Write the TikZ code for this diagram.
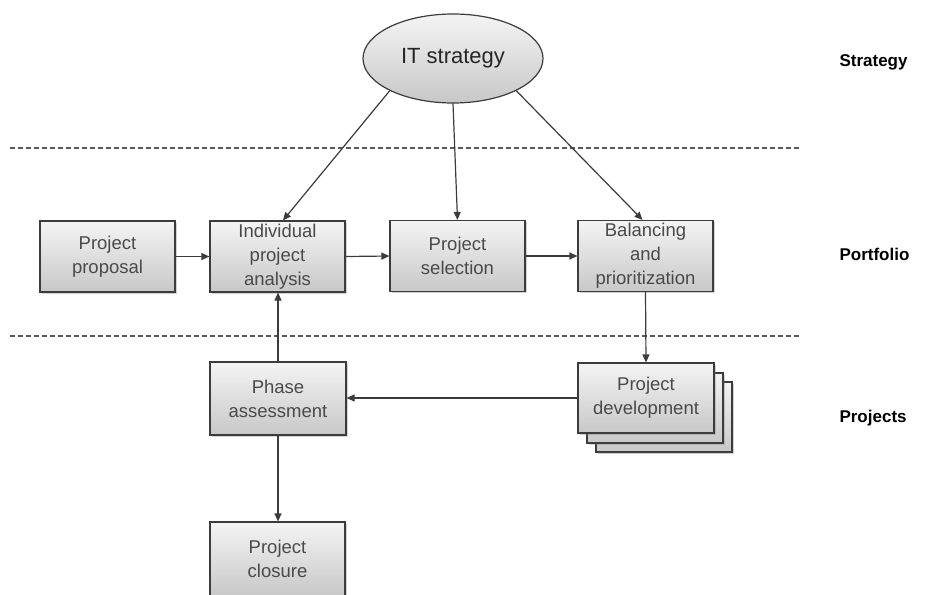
\documentclass[tikz,border=0pt]{standalone}
\usepackage{fontspec}
\setmainfont{Liberation Sans}
\usetikzlibrary{arrows.meta,shapes.geometric,shadows}

\definecolor{edge}{HTML}{3C3C3C}
\definecolor{boxtext}{HTML}{4A4A4A}
\definecolor{shadetop}{HTML}{F4F4F4}
\definecolor{shadebot}{HTML}{C8C8C8}

\tikzset{
  procbox/.style={draw=edge, line width=1.2pt, rectangle,
    top color=shadetop, bottom color=shadebot,
    minimum width=135pt, minimum height=71pt, inner sep=0pt,
    align=center, text=boxtext,
    font=\fontsize{18.5}{24}\selectfont,
    drop shadow={shadow xshift=1.5pt, shadow yshift=-1.5pt, opacity=0.35}},
  backbox/.style={procbox, drop shadow={opacity=0}},
  strat/.style={draw=edge, line width=1.2pt, ellipse,
    top color=shadetop, bottom color=shadebot,
    minimum width=180pt, minimum height=89pt, inner sep=0pt,
    text=black!85, font=\fontsize{22}{26}\selectfont},
  arr/.style={draw=edge, line width=1.2pt, -{Triangle[length=8pt,width=7pt]}},
  layerline/.style={draw=black!65, line width=1.2pt, dash pattern=on 5pt off 3pt},
  layerlabel/.style={anchor=west, font=\bfseries\fontsize{17}{20}\selectfont, text=black}
}

\begin{document}
\begin{tikzpicture}[x=1pt,y=-1pt]
\useasboundingbox[fill=white] (0,0) rectangle (933,594);

% layer separators
\coordinate (sepAl) at (10,148);
\coordinate (sepAr) at (800,148);
\coordinate (sepBl) at (10,336);
\coordinate (sepBr) at (800,336);
\draw[layerline] (sepAl) -- (sepAr);
\draw[layerline] (sepBl) -- (sepBr);

% layer labels
\node[layerlabel] (lstrat) at (836,62) {Strategy};
\node[layerlabel] (lport) at (836,254) {Portfolio};
\node[layerlabel] (lproj) at (836,418) {Projects};

% strategy
\node[strat] (it) at (453,58.5) {IT strategy};

% portfolio row
\node[procbox] (proposal) at (107.5,256.5) {Project\\proposal};
\node[procbox] (analysis) at (277.5,256.5) {Individual\\project\\analysis};
\node[procbox] (selection) at (457.5,256) {Project\\selection};
\node[procbox] (balancing) at (645.5,256) {Balancing\\and\\prioritization};

% projects row
\node[procbox, minimum width=136pt, minimum height=73pt] (phase) at (278,398.5) {Phase\\assessment};
\node[backbox, minimum width=136pt, minimum height=70pt] (devC) at (664,417) {};
\node[backbox, minimum width=136pt, minimum height=70pt] (devB) at (655,408) {};
\node[procbox, minimum width=136pt, minimum height=70pt] (dev) at (646,398) {Project\\development};
\node[procbox, minimum height=74pt] (closure) at (277.5,559) {Project\\closure};

% connectors
\draw[arr] (it.-153) -- ([xshift=5.5pt]analysis.north);
\draw[arr] (it.south) -- (selection.north);
\draw[arr] (it.-27) -- ([xshift=-3pt]balancing.north);
\draw[arr] (proposal.east) -- (analysis.west);
\draw[arr] (analysis.east) -- (selection.west);
\draw[arr] (selection.east) -- (balancing.west);
\draw[arr] (balancing.south) -- (dev.north);
\draw[arr] (dev.west) -- (phase.east |- dev.west);
\draw[arr] (phase.north) -- (phase.north |- analysis.south);
\draw[arr] (phase.south) -- (phase.south |- closure.north);
\end{tikzpicture}
\end{document}
